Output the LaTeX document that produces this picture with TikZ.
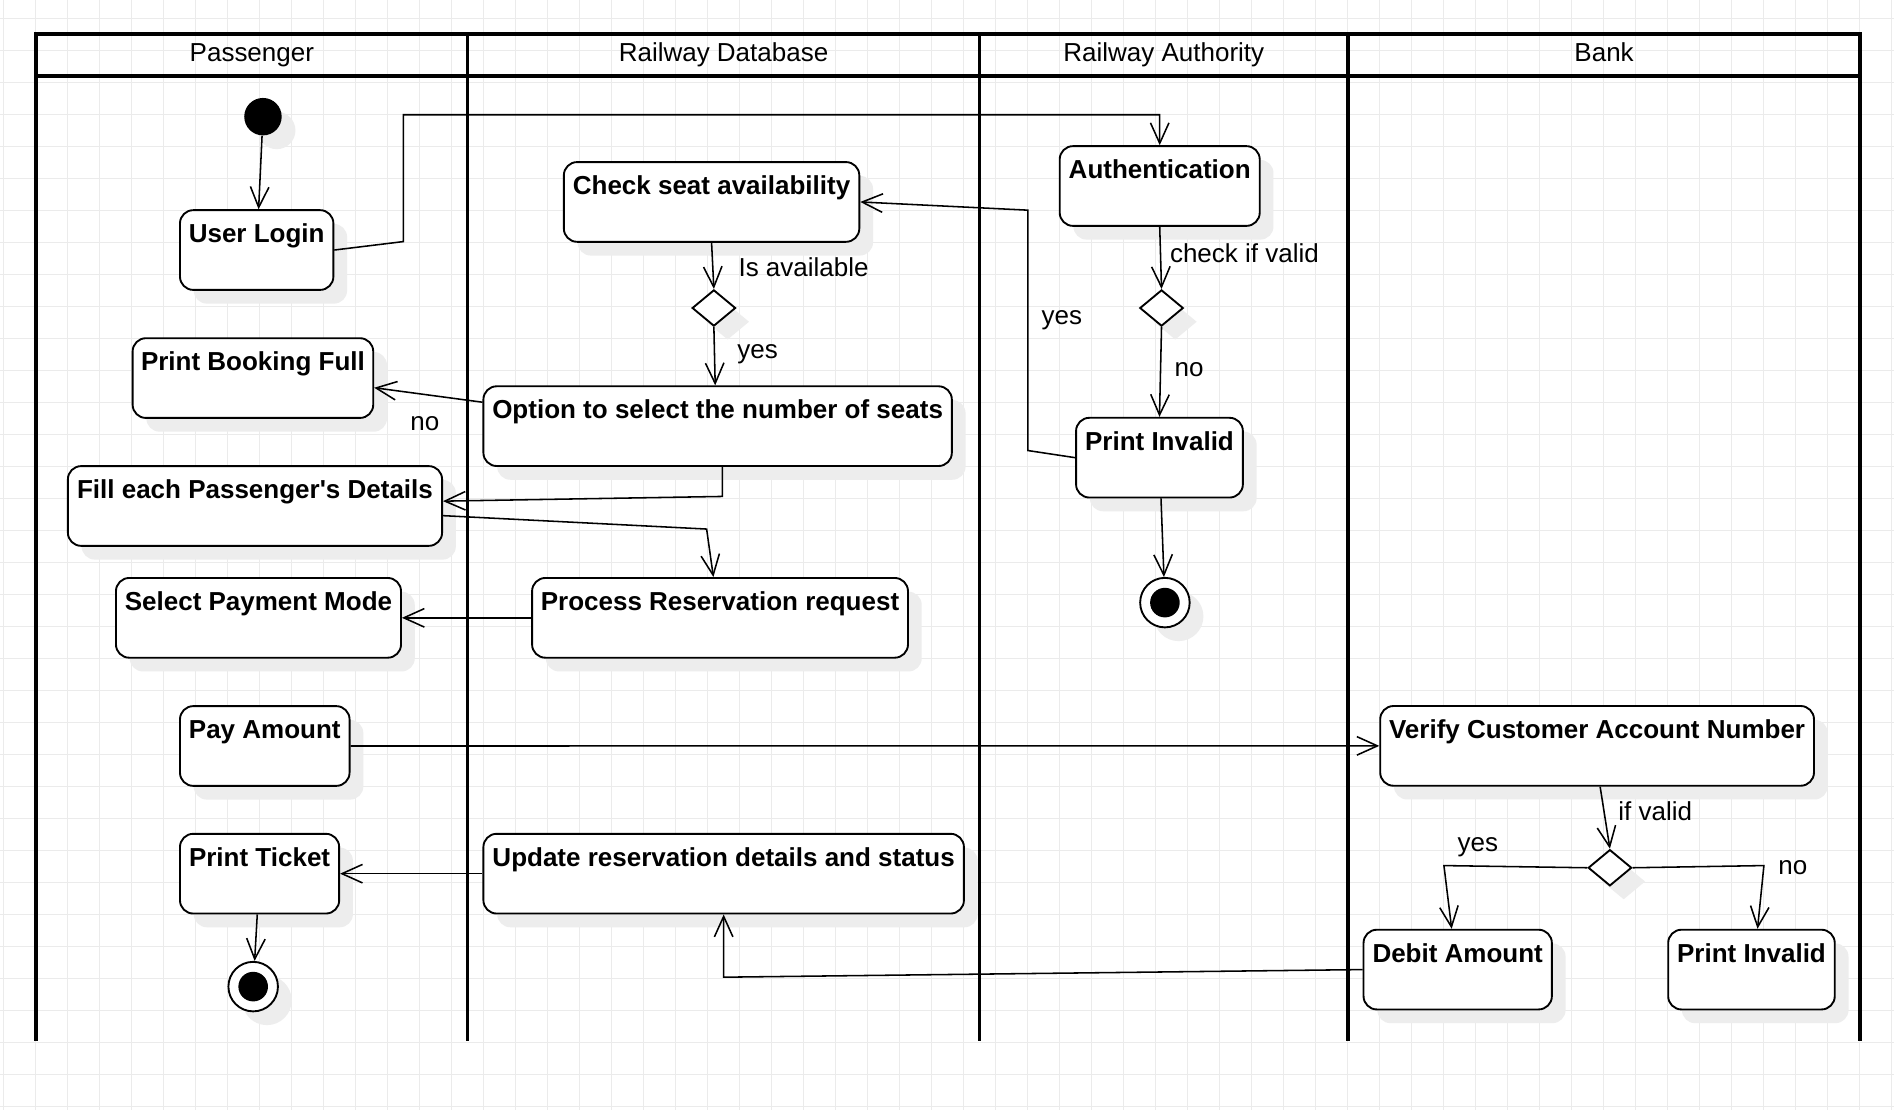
\documentclass[tikz,border=0pt]{standalone}
\usepackage{fontspec}
\setmainfont{Liberation Sans}
\usetikzlibrary{arrows.meta,shapes.geometric,shadows}
\definecolor{gridc}{HTML}{EBEBEB}
\definecolor{shadc}{HTML}{EDEDED}
\newcommand{\myu}{0.4832pt}
\begin{document}
\begin{tikzpicture}[x=0.4832pt,y=-0.4832pt,
  font=\fontsize{10.4pt}{12pt}\selectfont,
  gridl/.style={draw=gridc, line width=0.45pt},
  lane/.style={line width=1.45pt, line join=miter},
  shad/.style={drop shadow={shadow xshift=5.5pt, shadow yshift=-5.5pt, fill=shadc, opacity=1}},
  act/.style={draw, line width=0.75pt, fill=white, rounded corners=5.3pt, inner sep=0pt,
    text height=13.05pt, text depth=18.84pt, minimum height=31.89pt,
    font={\fontsize{10.4pt}{12pt}\selectfont\bfseries}, shad},
  dec/.style={draw, diamond, line width=0.75pt, fill=white, inner sep=0pt, minimum width=36*\myu, minimum height=30*\myu, shad},
  startn/.style={circle, fill=black, inner sep=0pt, minimum size=31*\myu, shad},
  endo/.style={circle, draw, line width=0.75pt, fill=white, inner sep=0pt, minimum size=41*\myu, shad},
  endi/.style={circle, fill=black, inner sep=0pt, minimum size=24.5*\myu},
  flow/.style={line width=0.62pt, -{Straight Barb[length=8.2pt,width=7.4pt]}},
  lbl/.style={anchor=base west, inner sep=0pt},
  hdr/.style={anchor=base, inner sep=0pt}]
\useasboundingbox (0,0) rectangle (1568,918.9);
\fill[white] (0,0) rectangle (1568,918.9);
% grid
\foreach \i in {0,...,59} {\draw[gridl] ({3.0+\i*26.49},0) -- ({3.0+\i*26.49},918.9);}
\foreach \j in {0,...,34} {\draw[gridl] (0,{15.15+\j*26.49}) -- (1568,{15.15+\j*26.49});}
% swimlanes
\draw[lane] (30,862) -- (30,28) -- (1540,28) -- (1540,862);
\draw[lane] (30,63) -- (1540,63);
\draw[lane] (387,28) -- (387,862);
\draw[lane] (811,28) -- (811,862);
\draw[lane] (1116,28) -- (1116,862);
\node[hdr] (h1) at (208.5,51) {Passenger};
\node[hdr] (h2) at (599,51) {Railway Database};
\node[hdr] (h3) at (963.5,51) {Railway Authority};
\node[hdr] (h4) at (1328,51) {Bank};
% Passenger lane
\node[startn] (start) at (217.7,96.6) {};
\node[act, minimum width=127*\myu] (login) at (212.5,207) {User Login};
\node[act, minimum width=199.2*\myu] (pbf) at (209.4,313) {Print Booking Full};
\node[act, minimum width=309.8*\myu] (fill) at (211.1,418.9) {Fill each Passenger\textquotesingle s Details};
\node[act, minimum width=236*\myu] (spm) at (214,511.5) {Select Payment Mode};
\node[act, minimum width=140.4*\myu] (pay) at (219.2,617.6) {Pay Amount};
\node[act, minimum width=131.8*\myu] (pt) at (214.9,723.3) {Print Ticket};
\node[endo] (end1) at (209.6,816.8) {};
\node[endi] (end1in) at (209.6,816.8) {};
% Railway Database lane
\node[act, minimum width=244.6*\myu] (check) at (589.1,167.2) {Check seat availability};
\node[dec] (d1) at (591,255) {};
\node[act, minimum width=387.8*\myu] (opt) at (594.1,352.8) {Option to select the number of seats};
\node[act, minimum width=311.2*\myu] (proc) at (596.1,511.5) {Process Reservation request};
\node[act, minimum width=397.8*\myu] (upd) at (599.1,723.3) {Update reservation details and status};
% Railway Authority lane
\node[act, minimum width=165.6*\myu] (auth) at (960.1,154) {Authentication};
\node[dec] (d2) at (961.6,255) {};
\node[act, minimum width=138.1*\myu] (pinv1) at (959.9,378.9) {Print Invalid};
\node[endo] (end2) at (964.4,498.9) {};
\node[endi] (end2in) at (964.4,498.9) {};
% Bank lane
\node[act, minimum width=359.1*\myu] (ver) at (1322.2,617.5) {Verify Customer Account Number};
\node[dec] (d3) at (1332.8,718.4) {};
\node[act, minimum width=155.9*\myu] (deb) at (1206.8,802.7) {Debit Amount};
\node[act, minimum width=137.9*\myu] (pinv2) at (1450,802.7) {Print Invalid};
% connectors
\draw[flow] (start) -- (login);
\draw[flow] (login.east) -- (334,200) -- (334,95) -| (auth.north);
\draw[flow] (pinv1.west) -- (851,373) -- (851,174) -- (check.east);
\draw[flow] (check.south) -- (d1.north);
\draw[flow] (d1.south) -- ([xshift=-2*\myu]opt.north);
\draw[flow] ([yshift=19.8*\myu]opt.west) -- ([yshift=-8*\myu]pbf.east);
\draw[flow] ([xshift=4*\myu]opt.south) -- (598,411) -- ([yshift=4*\myu]fill.east);
\draw[flow] ([yshift=-8*\myu]fill.east) -- (585,438) -- ([xshift=-5.5*\myu]proc.north);
\draw[flow] (proc.west) -- (spm.east);
\draw[flow] (pay.east) -- (ver.west);
\draw[flow] (upd.west) -- (pt.east);
\draw[flow] (pt) -- (end1);
\draw[flow] (deb.west) -- (599.1,809) -- (upd.south);
\draw[flow] (auth.south) -- (d2.north);
\draw[flow] (d2.south) -- (pinv1.north);
\draw[flow] (pinv1) -- (end2);
\draw[flow] ([xshift=2.5*\myu]ver.south) -- (d3.north);
\draw[flow] (d3.west) -- (1195.4,716.6) -- ([xshift=-5*\myu]deb.north);
\draw[flow] (d3.east) -- (1460.3,716.6) -- ([xshift=5*\myu]pinv2.north);
% labels
\node[lbl] (l1) at (611,229) {Is available};
\node[lbl] (l2) at (610,296.6) {yes};
\node[lbl] (l3) at (339.3,356.5) {no};
\node[lbl] (l4) at (862,268.5) {yes};
\node[lbl] (l5) at (968.2,217) {check if valid};
\node[lbl] (l6) at (972,311.8) {no};
\node[lbl] (l7) at (1339.4,679.4) {if valid};
\node[lbl] (l8) at (1206.3,705) {yes};
\node[lbl] (l9) at (1471.9,724.3) {no};
\end{tikzpicture}
\end{document}
